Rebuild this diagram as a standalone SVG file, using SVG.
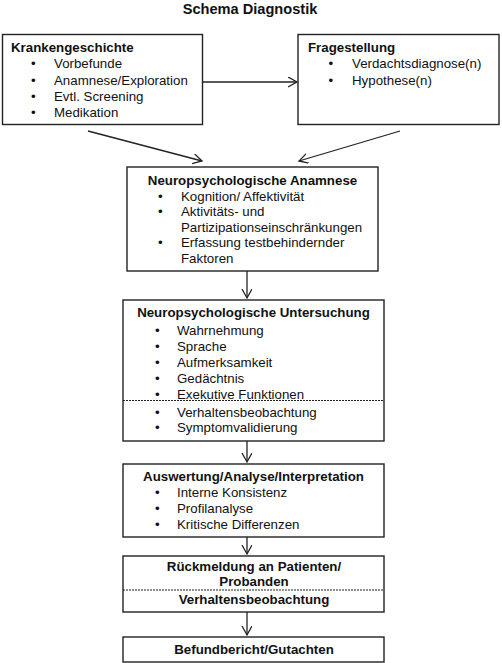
<svg xmlns="http://www.w3.org/2000/svg" width="502" height="663" viewBox="0 0 502 663">
<defs>
<style>
.box{fill:#fff;stroke:#222;stroke-width:1.4}
.dash{stroke:#222;stroke-width:1.2;stroke-dasharray:2 1;fill:none}
.con{stroke:#222;stroke-width:1.3;fill:none}
text{font-family:"Liberation Sans",Arial,sans-serif;font-size:13.3px;fill:#111}
.b{font-weight:bold}
.c{text-anchor:middle}
</style>
<marker id="ah" markerUnits="userSpaceOnUse" markerWidth="12" markerHeight="12" refX="9" refY="5" orient="auto">
<path d="M0,0 L9,5 L0,10" fill="none" stroke="#222" stroke-width="1.3"/>
</marker>
</defs>
<rect width="502" height="663" fill="#fff"/>
<text x="250" y="14" class="b c" style="font-size:14.6px">Schema Diagnostik</text>

<g id="connectors">
<line class="con" x1="202.5" y1="82" x2="297" y2="82" marker-end="url(#ah)"/>
<line class="con" x1="88" y1="131" x2="202" y2="161" marker-end="url(#ah)"/>
<line class="con" x1="400" y1="131" x2="299" y2="161" marker-end="url(#ah)"/>
<line class="con" x1="247" y1="271" x2="247" y2="298" marker-end="url(#ah)"/>
<line class="con" x1="247" y1="441" x2="247" y2="462" marker-end="url(#ah)"/>
<line class="con" x1="247" y1="537" x2="247" y2="554" marker-end="url(#ah)"/>
<line class="con" x1="247" y1="612" x2="247" y2="635" marker-end="url(#ah)"/>
</g>

<g id="krankengeschichte">
<rect class="box" x="2.5" y="34.5" width="200" height="90"/>
<text x="11" y="52" class="b">Krankengeschichte</text>
<text x="31" y="68">•</text><text x="54" y="68">Vorbefunde</text>
<text x="31" y="84.5">•</text><text x="54" y="84.5">Anamnese/Exploration</text>
<text x="31" y="100.8">•</text><text x="54" y="100.8">Evtl. Screening</text>
<text x="31" y="117">•</text><text x="54" y="117">Medikation</text>
</g>

<g id="fragestellung">
<rect class="box" x="298" y="34.5" width="201" height="90"/>
<text x="308" y="51.5" class="b">Fragestellung</text>
<text x="328.5" y="68">•</text><text x="352" y="68">Verdachtsdiagnose(n)</text>
<text x="328.5" y="84.5">•</text><text x="352" y="84.5">Hypothese(n)</text>
</g>

<g id="anamnese">
<rect class="box" x="127" y="167" width="251" height="104"/>
<text x="252.5" y="185" class="b c">Neuropsychologische Anamnese</text>
<text x="158" y="200.7">•</text><text x="181" y="200.7">Kognition/ Affektivität</text>
<text x="158" y="216">•</text><text x="181" y="216">Aktivitäts- und</text>
<text x="181" y="231.7">Partizipationseinschränkungen</text>
<text x="158" y="247">•</text><text x="181" y="247">Erfassung testbehindernder</text>
<text x="181" y="262.7">Faktoren</text>
</g>

<g id="untersuchung">
<rect class="box" x="123" y="300" width="261" height="141"/>
<text x="253.5" y="317" class="b c">Neuropsychologische Untersuchung</text>
<text x="155" y="335">•</text><text x="177" y="335">Wahrnehmung</text>
<text x="155" y="350.8">•</text><text x="177" y="350.8">Sprache</text>
<text x="155" y="366.7">•</text><text x="177" y="366.7">Aufmerksamkeit</text>
<text x="155" y="382.7">•</text><text x="177" y="382.7">Gedächtnis</text>
<text x="155" y="398.7">•</text><text x="177" y="398.7">Exekutive Funktionen</text>
<line class="dash" x1="123" y1="400.5" x2="384" y2="400.5"/>
<text x="155" y="416.7">•</text><text x="177" y="416.7">Verhaltensbeobachtung</text>
<text x="155" y="432.3">•</text><text x="177" y="432.3">Symptomvalidierung</text>
</g>

<g id="auswertung">
<rect class="box" x="123" y="464" width="261" height="73"/>
<text x="253.5" y="481" class="b c">Auswertung/Analyse/Interpretation</text>
<text x="155" y="497">•</text><text x="177" y="497">Interne Konsistenz</text>
<text x="155" y="513">•</text><text x="177" y="513">Profilanalyse</text>
<text x="155" y="529">•</text><text x="177" y="529">Kritische Differenzen</text>
</g>

<g id="rueckmeldung">
<rect class="box" x="123" y="556" width="261" height="56"/>
<text x="254" y="570.7" class="b c">Rückmeldung an Patienten/</text>
<text x="254" y="586" class="b c">Probanden</text>
<line class="dash" x1="123" y1="590" x2="384" y2="590"/>
<text x="254" y="604" class="b c">Verhaltensbeobachtung</text>
</g>

<g id="befundbericht">
<rect class="box" x="123" y="637" width="261" height="25"/>
<text x="254" y="653.5" class="b c">Befundbericht/Gutachten</text>
</g>
</svg>
